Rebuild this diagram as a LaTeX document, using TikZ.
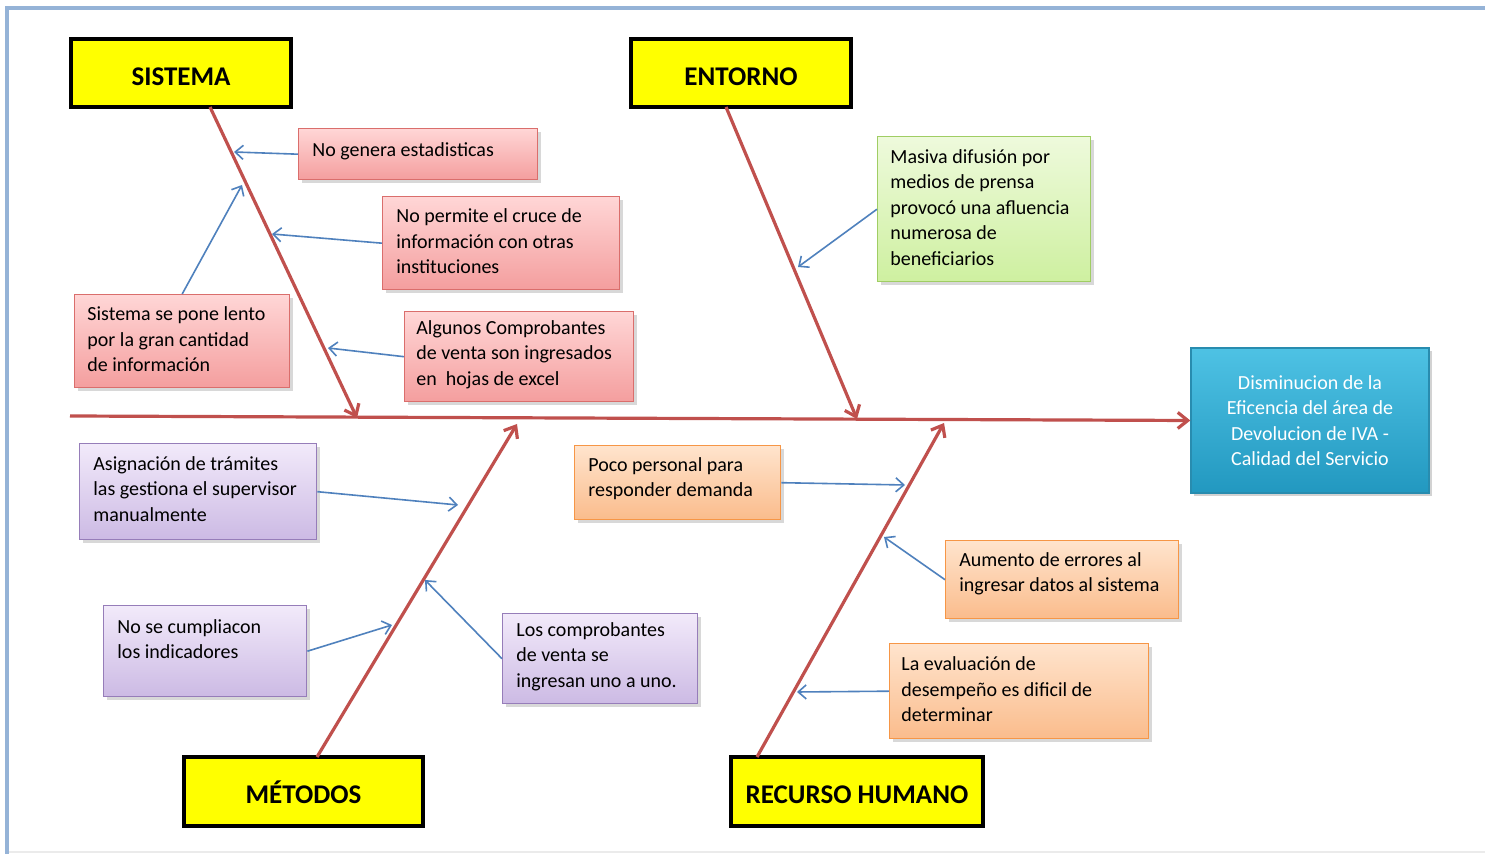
\documentclass[tikz,border=0pt]{standalone}
\usepackage{fontspec}
\setmainfont{Carlito}
\usetikzlibrary{arrows.meta,shadows}
\definecolor{frameblue}{RGB}{149,179,215}
\definecolor{bonered}{RGB}{192,80,77}
\definecolor{arrowblue}{RGB}{79,129,189}
\definecolor{redtop}{RGB}{255,214,214}
\definecolor{redbot}{RGB}{244,158,158}
\definecolor{redline}{RGB}{218,110,108}
\definecolor{greentop}{RGB}{238,250,220}
\definecolor{greenbot}{RGB}{206,240,160}
\definecolor{greenline}{RGB}{160,205,100}
\definecolor{purptop}{RGB}{242,234,250}
\definecolor{purpbot}{RGB}{204,186,228}
\definecolor{purpline}{RGB}{150,125,185}
\definecolor{orgtop}{RGB}{255,228,205}
\definecolor{orgbot}{RGB}{250,188,140}
\definecolor{orgline}{RGB}{246,150,70}
\definecolor{restop}{RGB}{78,194,228}
\definecolor{resbot}{RGB}{34,152,192}
\definecolor{resline}{RGB}{40,140,175}
\definecolor{hdryellow}{RGB}{255,255,0}
\begin{document}
\begin{tikzpicture}[x=0.5pt,y=-0.5pt,
  causebox/.style={draw, line width=0.7pt, anchor=north west, inner sep=0pt,
    drop shadow={opacity=0.3,shadow xshift=1.5pt,shadow yshift=-1.5pt}},
  redbox/.style={causebox, draw=redline, top color=redtop, bottom color=redbot},
  greenbox/.style={causebox, draw=greenline, top color=greentop, bottom color=greenbot},
  purpbox/.style={causebox, draw=purpline, top color=purptop, bottom color=purpbot},
  orgbox/.style={causebox, draw=orgline, top color=orgtop, bottom color=orgbot},
  txt/.style={align=left, inner sep=0pt, anchor=west, font=\fontsize{10}{12.75}\selectfont},
  hdr/.style={draw=black, line width=1.6pt, fill=hdryellow, inner sep=0pt,
    text height=12.2pt, text depth=0pt,
    minimum height=34pt, font=\bfseries\fontsize{13.5}{16}\selectfont},
  bone/.style={draw=bonered, line width=1.6pt, -{Straight Barb[length=5pt,width=8pt]}},
  link/.style={draw=arrowblue, line width=0.8pt, -{Straight Barb[length=4pt,width=7pt]}}
]
\useasboundingbox (0,0) rectangle (1485,854);
\fill[white] (0,0) rectangle (1485,854);
% frame
\draw[frameblue, line width=2.2pt] (7,854) -- (7,8) -- (1485,8);
\draw[black!8, line width=0.6pt] (9,852) -- (1485,852);

% headers
\node[hdr, minimum width=110pt] (sis) at (181,73) {SISTEMA};
\node[hdr, minimum width=110pt] (ent) at (741,73) {ENTORNO};
\node[hdr, minimum width=119.5pt, minimum height=34.5pt] (met) at (303.5,791.5) {MÉTODOS};
\node[hdr, minimum width=126pt, minimum height=34.5pt] (rh) at (857,791.5) {RECURSO HUMANO};

% result
\node[draw=resline, line width=0.7pt, top color=restop, bottom color=resbot,
  minimum width=119pt, minimum height=72.5pt, inner sep=0pt,
  drop shadow={opacity=0.35,shadow xshift=1.5pt,shadow yshift=-1.5pt},
  align=center, text=white, font=\fontsize{10}{12.7}\selectfont] (res) at (1310,420.5)
  {Disminucion de la\\Eficencia del área de\\Devolucion de IVA -\\Calidad del Servicio};

% spine and bones
\coordinate (spS) at (70,416);
\draw[bone] (spS) -- (res.west);
\coordinate (b1s) at (210,107);
\coordinate (b1e) at (357,418);
\coordinate (b2s) at (726,107);
\coordinate (b2e) at (857,419);
\coordinate (b3s) at (317,757);
\coordinate (b3e) at (517,424);
\coordinate (b4s) at (757,757);
\coordinate (b4e) at (944,423);
\draw[bone] (b1s) -- (b1e);
\draw[bone] (b2s) -- (b2e);
\draw[bone] (b3s) -- (b3e);
\draw[bone] (b4s) -- (b4e);

% SISTEMA causes
\node[redbox, minimum width=119.5pt, minimum height=25.5pt] (r1) at (298,128) {};
\node[txt] (r1t) at ([xshift=7pt,yshift=1.5pt]r1.west) {No genera estadisticas};
\node[redbox, minimum width=118.5pt, minimum height=46.5pt] (r2) at (382,196) {};
\node[txt] (r2t) at ([xshift=7pt,yshift=1pt]r2.west) {No permite el cruce de\\información con otras\\instituciones};
\node[redbox, minimum width=114.5pt, minimum height=45pt] (r3) at (404,311) {};
\node[txt] (r3t) at ([xshift=6pt,yshift=1pt]r3.west) {Algunos Comprobantes\\de venta son ingresados\\en\ \ hojas de excel};
\node[redbox, minimum width=107.5pt, minimum height=46.5pt] (r4) at (74,294) {};
\node[txt] (r4t) at ([xshift=6.5pt,yshift=1pt]r4.west) {Sistema se pone lento\\por la gran cantidad\\de información};

\coordinate (a1) at (234,152);
\coordinate (a2) at (272,234);
\coordinate (a3) at (328,348);
\coordinate (a4) at (242,185);
\draw[link] (r1.west) -- (a1);
\draw[link] (r2.west) -- (a2);
\draw[link] (r3.west) -- (a3);
\draw[link] (r4.north) -- (a4);

% ENTORNO cause
\node[greenbox, minimum width=106.5pt, minimum height=72.5pt] (g1) at (877,136) {};
\node[txt] (g1t) at ([xshift=6.5pt,yshift=1pt]g1.west) {Masiva difusión por\\medios de prensa\\provocó una afluencia\\numerosa de\\beneficiarios};
\coordinate (a5) at (798,267);
\draw[link] (g1.west) -- (a5);

% MÉTODOS causes
\node[purpbox, minimum width=118.5pt, minimum height=48pt] (p1) at (79,443) {};
\node[txt] (p1t) at ([xshift=7pt,yshift=1.5pt]p1.west) {Asignación de trámites\\las gestiona el supervisor\\manualmente};
\node[purpbox, minimum width=101.5pt, minimum height=45.5pt] (p2) at (103,605) {};
\node[txt, anchor=north west] (p2t) at ([xshift=7pt,yshift=-7pt]p2.north west) {No se cumpliacon\\los indicadores};
\node[purpbox, minimum width=97.5pt, minimum height=45pt] (p3) at (502,613) {};
\node[txt] (p3t) at ([xshift=7pt,yshift=1pt]p3.west) {Los comprobantes\\de venta se\\ingresan uno a uno.};
\coordinate (a6) at (458,505);
\coordinate (a7) at (392,625);
\coordinate (a8) at (425,580);
\draw[link] (p1.east) -- (a6);
\draw[link] (p2.east) -- (a7);
\draw[link] (p3.west) -- (a8);

% RECURSO HUMANO causes
\node[orgbox, minimum width=103pt, minimum height=37pt] (o1) at (574,445) {};
\node[txt] (o1t) at ([xshift=7pt,yshift=2pt]o1.west) {Poco personal para\\responder demanda};
\node[orgbox, minimum width=116.5pt, minimum height=39pt] (o2) at (945,540) {};
\node[txt] (o2t) at ([xshift=7pt,yshift=3pt]o2.west) {Aumento de errores al\\ingresar datos al sistema};
\node[orgbox, minimum width=129.5pt, minimum height=47.5pt] (o3) at (889,643) {};
\node[txt] (o3t) at ([xshift=6pt,yshift=1pt]o3.west) {La evaluación de\\desempeño es dificil de\\determinar};
\coordinate (a9) at (905,485);
\coordinate (a10) at (884,537);
\coordinate (a11) at (797,692);
\draw[link] (o1.east) -- (a9);
\draw[link] (o2.west) -- (a10);
\draw[link] (o3.west) -- (a11);
\end{tikzpicture}
\end{document}
